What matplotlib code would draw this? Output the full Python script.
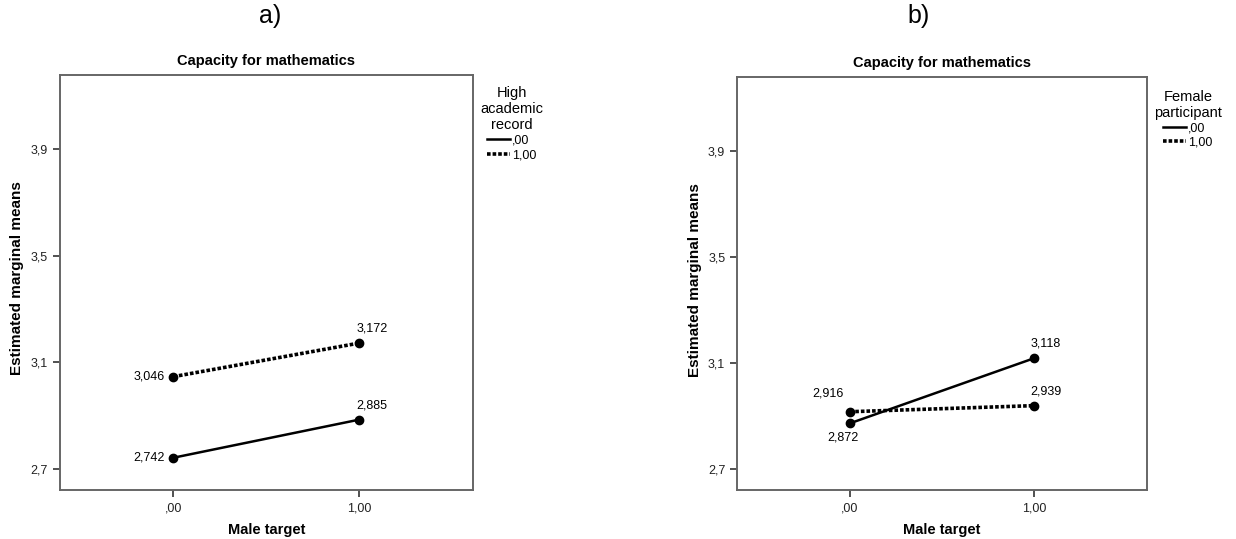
import matplotlib
matplotlib.use("Agg")
import matplotlib.pyplot as plt
from matplotlib.lines import Line2D

plt.rcParams['font.family'] = ['Liberation Sans', 'DejaVu Sans']

x_vals = [0, 1]
x_ticklabels = [',00', '1,00']
y_ticks = [2.7, 3.1, 3.5, 3.9]
y_ticklabels = ['2,7', '3,1', '3,5', '3,9']

# panel a: High academic record
a_solid = [2.742, 2.885]
a_dotted = [3.046, 3.172]
# panel b: Female participant
b_solid = [2.872, 3.118]
b_dotted = [2.916, 2.939]

DOT = (0, (1.0, 0.55))


def fmt(v):
    return ('%.3f' % v).replace('.', ',')


def panel(ax, solid, dotted):
    ax.plot(x_vals, solid, color='black', lw=1.8, marker='o', ms=6)
    ax.plot(x_vals, dotted, color='black', lw=2.6, linestyle=DOT,
            marker='o', ms=6)
    ax.set_xlim(-0.61, 1.61)
    ax.set_ylim(2.621, 4.177)
    ax.set_xticks(x_vals)
    ax.set_xticklabels(x_ticklabels)
    ax.set_yticks(y_ticks)
    ax.set_yticklabels(y_ticklabels)
    ax.tick_params(labelsize=9, length=5, width=1.2, colors='#333333',
                   labelcolor='#222222')
    ax.tick_params(axis='x', pad=4)
    for s in ax.spines.values():
        s.set_color('#666666')
        s.set_linewidth(1.4)
    ax.set_title('Capacity for mathematics', fontsize=10.5, fontweight='bold',
                 pad=7)
    ax.set_xlabel('Male target', fontsize=10.5, fontweight='bold', labelpad=6)


fig = plt.figure(figsize=(12.36, 5.39), dpi=100)
ax1 = fig.add_axes([0.0485, 0.0909, 0.3341, 0.770])
ax2 = fig.add_axes([0.5963, 0.0909, 0.3317, 0.766])

panel(ax1, a_solid, a_dotted)
panel(ax2, b_solid, b_dotted)

# value labels, panel a
ax1.annotate(fmt(a_solid[0]), (0, a_solid[0]), xytext=(-6, 0),
             textcoords='offset points', ha='right', va='center', fontsize=9)
ax1.annotate(fmt(a_dotted[0]), (0, a_dotted[0]), xytext=(-6, 0),
             textcoords='offset points', ha='right', va='center', fontsize=9)
ax1.annotate(fmt(a_solid[1]), (1, a_solid[1]), xytext=(-2, 6),
             textcoords='offset points', ha='left', va='bottom', fontsize=9)
ax1.annotate(fmt(a_dotted[1]), (1, a_dotted[1]), xytext=(-2, 6),
             textcoords='offset points', ha='left', va='bottom', fontsize=9)

# value labels, panel b
ax2.annotate(fmt(b_dotted[0]), (0, b_dotted[0]), xytext=(-4, 9),
             textcoords='offset points', ha='right', va='bottom', fontsize=9)
ax2.annotate(fmt(b_solid[0]), (0, b_solid[0]), xytext=(-5, -6),
             textcoords='offset points', ha='center', va='top', fontsize=9)
ax2.annotate(fmt(b_solid[1]), (1, b_solid[1]), xytext=(-3, 6),
             textcoords='offset points', ha='left', va='bottom', fontsize=9)
ax2.annotate(fmt(b_dotted[1]), (1, b_dotted[1]), xytext=(-3, 6),
             textcoords='offset points', ha='left', va='bottom', fontsize=9)

# y labels
fig.text(0.014, 0.485, 'Estimated marginal means', rotation=90, ha='center',
         va='center', fontsize=11, fontweight='bold')
fig.text(0.562, 0.48, 'Estimated marginal means', rotation=90, ha='center',
         va='center', fontsize=11, fontweight='bold')

# panel letters
fig.text(0.2185, 0.97, 'a)', ha='center', va='center', fontsize=18)
fig.text(0.743, 0.97, 'b)', ha='center', va='center', fontsize=18)

# legends
handles = [Line2D([], [], color='black', lw=1.8),
           Line2D([], [], color='black', lw=2.6, linestyle=DOT)]
leg1 = fig.legend(handles, [',00', '1,00'], title='High\nacademic\nrecord',
                  loc='upper center', bbox_to_anchor=(0.414, 0.85),
                  frameon=False, fontsize=9, title_fontsize=10.5,
                  handlelength=1.8, handletextpad=0.15, labelspacing=0.2,
                  borderaxespad=0, alignment='center')
leg1.get_title().set_multialignment('center')
leg2 = fig.legend(handles, [',00', '1,00'], title='Female\nparticipant',
                  loc='upper center', bbox_to_anchor=(0.961, 0.843),
                  frameon=False, fontsize=9, title_fontsize=10.5,
                  handlelength=1.8, handletextpad=0.15, labelspacing=0.2,
                  borderaxespad=0, alignment='center')
leg2.get_title().set_multialignment('center')

fig.savefig('out.png', dpi=100)
